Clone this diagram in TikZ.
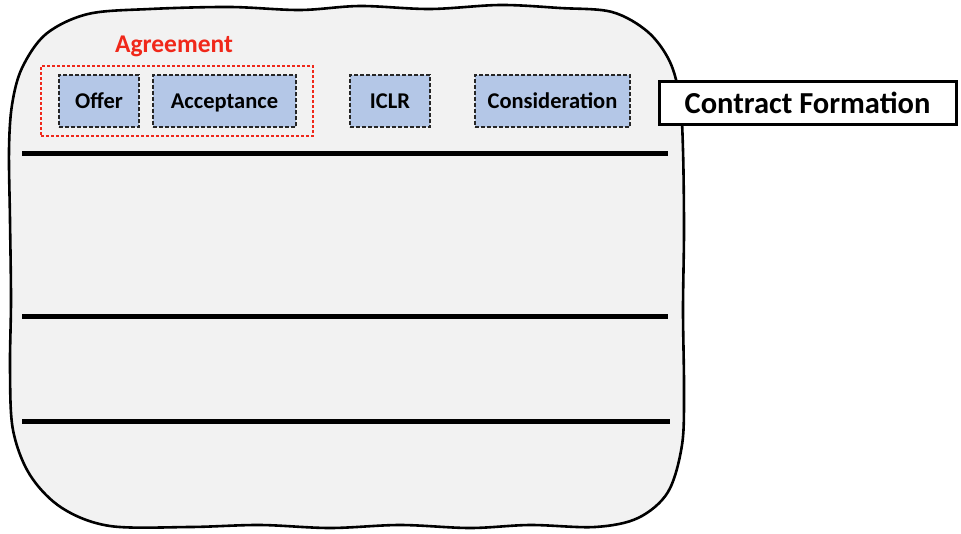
\documentclass[tikz,border=0pt]{standalone}
\usepackage{fontspec}
\setmainfont{Carlito}
\definecolor{boxblue}{HTML}{B4C7E7}
\definecolor{panel}{HTML}{F2F2F2}
\definecolor{agred}{HTML}{F0281A}
\tikzset{
  term/.style={draw=black!85, fill=boxblue, dash pattern=on 4pt off 2pt, line width=1.3pt,
    minimum height=52pt, inner sep=0pt, text height=18.5pt, text depth=4pt,
    font=\fontsize{22.5}{26}\selectfont\bfseries},
  rule/.style={line width=5pt, black},
}
\begin{document}
\begin{tikzpicture}[x=1pt,y=-1pt]
\useasboundingbox (0,0) rectangle (961,533);
% panel
\draw[line width=2.6pt, fill=panel, line join=round]
  plot[smooth cycle, tension=0.55] coordinates {
  (9,150) (12,105) (22,68) (46,34) (88,14) (150,9) (230,7) (300,10) (360,6) (430,9)
  (500,5) (560,8) (612,12) (648,32) (670,62) (680,100) (683,150) (684,230) (683,310)
  (684,390) (682,445) (668,492) (638,518) (595,527) (530,525) (470,528) (400,525)
  (330,528) (260,525) (190,527) (110,526) (62,508) (30,475) (13,430) (10,370) (11,300) (10,220)};
% rules
\draw[rule] (22,153) -- (668,153);
\draw[rule] (22,316) -- (668,316);
\draw[rule] (22,421) -- (670,421);
% agreement group
\node[draw=agred, dash pattern=on 3pt off 2pt, line width=1.1pt, minimum width=272pt,
  minimum height=70pt, inner sep=0pt] (agr) at (177,101) {};
\node[text=agred, font=\fontsize{25.5}{28}\selectfont\bfseries] (agrlab) at (174,46) {Agreement};
\node[term, minimum width=80pt] (offer) at (99,101) {Offer};
\node[term, minimum width=143pt] (acc) at (224.5,101) {Acceptance};
\node[term, minimum width=80pt] (iclr) at (390,101) {ICLR};
\node[term, minimum width=155pt] (cons) at (552.5,101) {Consideration};
% title box
\node[draw=black, fill=white, line width=3pt, minimum width=297pt, minimum height=43pt,
  inner sep=0pt, font=\fontsize{30.5}{34}\selectfont\bfseries] (title) at (807.5,103) {Contract Formation};
\end{tikzpicture}
\end{document}
